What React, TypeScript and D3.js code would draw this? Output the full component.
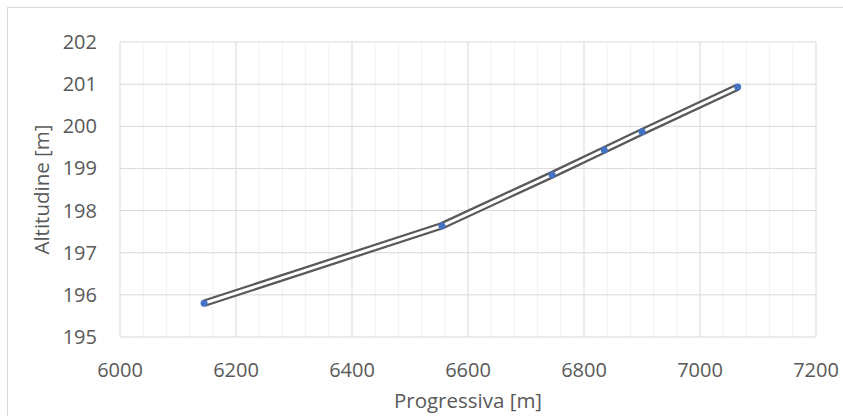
import React from "react";
import * as d3 from "d3";

const progressiva = [6145, 6555, 6745, 6835, 6900, 7065];
const altitudine = [195.8, 197.64, 198.85, 199.44, 199.87, 200.93];
const xTicks = [6000, 6200, 6400, 6600, 6800, 7000, 7200];
const yTicks = [195, 196, 197, 198, 199, 200, 201, 202];
const xTitle = "Progressiva [m]";
const yTitle = "Altitudine [m]";

const W = 843;
const H = 416;
const margin = { left: 120, right: 843 - 816, top: 42, bottom: 416 - 337 };
const FONT = "'Open Sans', 'Liberation Sans', sans-serif";

export default function App() {
  const x = d3.scaleLinear().domain([6000, 7200]).range([margin.left, W - margin.right]);
  const y = d3.scaleLinear().domain([195, 202]).range([H - margin.bottom, margin.top]);
  const minorX = d3.range(6000, 7200 + 1, 40).filter((v) => v % 200 !== 0);
  const pts: [number, number][] = progressiva.map((p, i) => [p, altitudine[i]]);
  const line = d3
    .line<[number, number]>()
    .x((d) => x(d[0]))
    .y((d) => y(d[1]));
  const path = line(pts) || "";

  return (
    <svg
      width={W}
      height={H}
      style={{ position: "absolute", left: 0, top: 0 }}
      fontFamily={FONT}
    >
      <rect x={0} y={0} width={W} height={H} fill="#fff" />
      <rect x={7.5} y={7.5} width={W} height={H} fill="#fff" stroke="#d9d9d9" strokeWidth={1} />
      {minorX.map((v) => (
        <line key={"mx" + v} x1={x(v)} x2={x(v)} y1={y(195)} y2={y(202)} stroke="#f2f2f2" strokeWidth={1} />
      ))}
      {xTicks.map((v) => (
        <line key={"gx" + v} x1={x(v)} x2={x(v)} y1={y(195)} y2={y(202)} stroke="#d9d9d9" strokeWidth={1} />
      ))}
      {yTicks.map((v) => (
        <line key={"gy" + v} x1={x(6000)} x2={x(7200)} y1={y(v)} y2={y(v)} stroke="#d9d9d9" strokeWidth={1} />
      ))}
      <path d={path} fill="none" stroke="#595959" strokeWidth={7.5} strokeLinejoin="miter" />
      <path d={path} fill="none" stroke="#ffffff" strokeWidth={3} strokeLinejoin="miter" />
      {pts.map((d, i) => (
        <circle key={"p" + i} cx={x(d[0])} cy={y(d[1])} r={3.5} fill="#4472c4" />
      ))}
      {yTicks.map((v) => (
        <text key={"ty" + v} x={97} y={y(v)} dy="0.35em" textAnchor="end" fontSize={20} fill="#595959">
          {v}
        </text>
      ))}
      {xTicks.map((v) => (
        <text key={"tx" + v} x={x(v)} y={370} dy="0.35em" textAnchor="middle" fontSize={20} fill="#595959">
          {v}
        </text>
      ))}
      <text x={468} y={401} dy="0.35em" textAnchor="middle" fontSize={20.5} fill="#595959">
        {xTitle}
      </text>
      <text
        transform={`translate(42,${(y(195) + y(202)) / 2}) rotate(-90)`}
        dy="0.35em"
        textAnchor="middle"
        fontSize={20.5}
        fill="#595959"
      >
        {yTitle}
      </text>
    </svg>
  );
}
